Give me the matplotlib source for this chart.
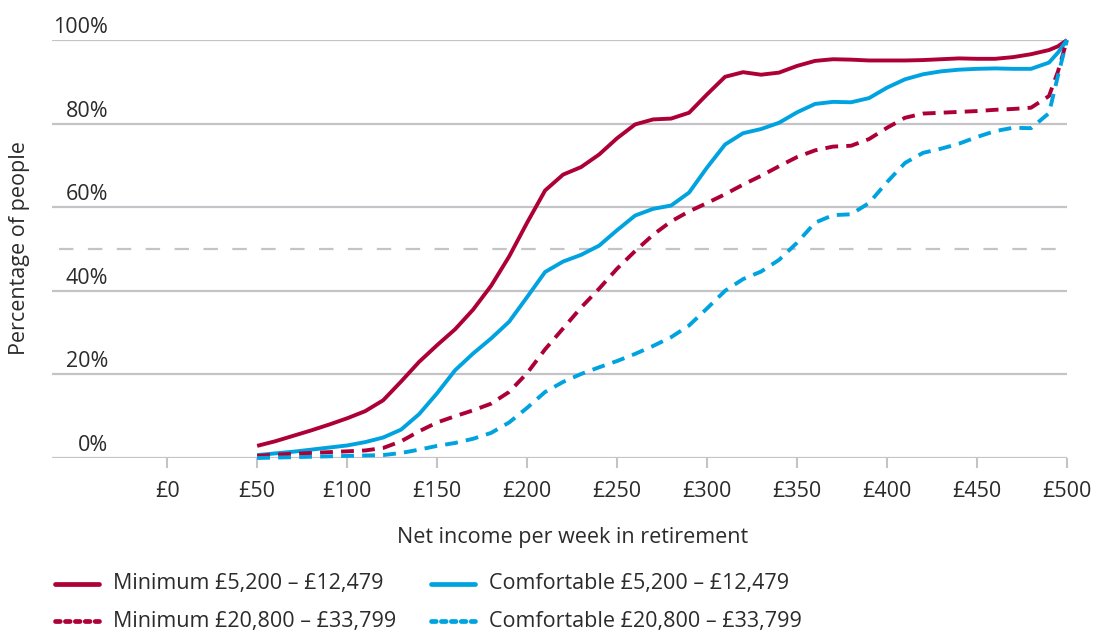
import matplotlib
matplotlib.use("Agg")
import matplotlib.pyplot as plt
from matplotlib.lines import Line2D
from matplotlib import transforms

# Weekly net income in retirement (£)
income = [50, 60, 70, 80, 90, 100, 110, 120, 130, 140, 150, 160, 170, 180, 190,
          200, 210, 220, 230, 240, 250, 260, 270, 280, 290, 300, 310, 320, 330,
          340, 350, 360, 370, 380, 390, 400, 410, 420, 430, 440, 450, 460, 470,
          480, 490, 495, 500]

# Cumulative percentage of people, by standard and earnings band
minimum_low = [2.9, 4.0, 5.3, 6.6, 8.0, 9.5, 11.2, 13.8, 18.3, 23.0, 27.0, 30.8,
               35.5, 41.2, 48.2, 56.3, 64.0, 67.8, 69.6, 72.6, 76.5, 79.8, 81.0,
               81.2, 82.6, 87.0, 91.2, 92.3, 91.7, 92.2, 93.8, 95.0, 95.4, 95.3,
               95.1, 95.1, 95.1, 95.2, 95.4, 95.6, 95.5, 95.5, 95.9, 96.6, 97.6,
               98.5, 100.0]
comfortable_low = [0.7, 1.1, 1.5, 2.0, 2.5, 3.0, 3.8, 4.9, 6.8, 10.5, 15.5, 21.0,
                   25.0, 28.6, 32.6, 38.5, 44.5, 47.0, 48.6, 50.8, 54.5, 58.0,
                   59.6, 60.4, 63.5, 69.5, 75.0, 77.7, 78.7, 80.2, 82.7, 84.7,
                   85.2, 85.1, 86.1, 88.6, 90.6, 91.8, 92.5, 92.9, 93.1, 93.2,
                   93.1, 93.1, 94.6, 97.0, 100.0]
minimum_high = [0.5, 0.8, 1.0, 1.2, 1.4, 1.6, 1.8, 2.4, 4.0, 6.4, 8.5, 10.0, 11.4,
                13.0, 15.8, 20.3, 26.0, 31.0, 36.0, 40.5, 45.3, 49.5, 53.4, 56.6,
                59.0, 61.0, 63.1, 65.4, 67.5, 69.8, 72.0, 73.6, 74.5, 74.7, 76.3,
                79.0, 81.4, 82.4, 82.6, 82.8, 83.0, 83.3, 83.5, 83.8, 86.6, 92.5,
                100.0]
comfortable_high = [0.0, 0.1, 0.2, 0.3, 0.4, 0.5, 0.6, 0.7, 1.2, 2.0, 2.9, 3.6,
                    4.6, 6.0, 8.5, 12.0, 15.8, 18.2, 20.1, 21.7, 23.2, 24.9, 26.8,
                    28.9, 31.7, 35.8, 40.0, 42.8, 44.6, 47.4, 51.5, 56.3, 58.1,
                    58.3, 61.0, 66.0, 70.6, 73.0, 74.0, 75.2, 76.8, 78.2, 79.0,
                    78.9, 82.5, 91.5, 100.0]

series_labels = ["Minimum £5,200 – £12,479", "Comfortable £5,200 – £12,479",
                 "Minimum £20,800 – £33,799", "Comfortable £20,800 – £33,799"]
x_ticks = [0, 50, 100, 150, 200, 250, 300, 350, 400, 450, 500]
x_tick_labels = ["£0", "£50", "£100", "£150", "£200", "£250", "£300", "£350",
                 "£400", "£450", "£500"]
y_ticks = [0, 20, 40, 60, 80, 100]
y_tick_labels = ["0%", "20%", "40%", "60%", "80%", "100%"]

RED = "#AD0036"
BLUE = "#00A3E0"
GRID = "#C4C4C8"
TEXT = "#2B2B2B"
FONT = "Open Sans"
FS = 15.5

plt.rcParams["font.family"] = [FONT, "DejaVu Sans"]

W, H = 1095, 632
fig = plt.figure(figsize=(W / 100, H / 100), dpi=100)
fig.patch.set_facecolor("white")
ax = fig.add_axes([52 / W, 1 - 458 / H, (1067 - 52) / W, (458 - 40) / H])
ax.set_xlim(-64, 500)
ax.set_ylim(0, 100)
for s in ax.spines.values():
    s.set_visible(False)

# horizontal gridlines and the 50% reference line
for yv in y_ticks:
    ax.axhline(yv, color=GRID, lw=1.6, zorder=0, solid_capstyle="butt")
ax.hlines(50, -60, 500, color=GRID, lw=1.6, linestyles=(0, (6.5, 6.5)), zorder=0)

# y labels sit just above their gridlines
ylab_tr = transforms.offset_copy(
    transforms.blended_transform_factory(ax.transAxes, ax.transData),
    fig=fig, x=0, y=7, units="dots")
ax.set_yticks([])
for yv, lab in zip(y_ticks, y_tick_labels):
    ax.text(0.0552, yv, lab, transform=ylab_tr, ha="right", va="baseline",
            fontsize=FS, color=TEXT)

ax.set_xticks(x_ticks)
ax.set_xticklabels(x_tick_labels, fontsize=FS, color=TEXT)
ax.tick_params(axis="x", length=7.5, width=1.5, color=GRID, pad=9)

# data lines
lw = 2.8
dash = (0, (3.3, 2.1))
common = dict(lw=lw, clip_on=False, solid_joinstyle="round", dash_joinstyle="round",
              solid_capstyle="butt", dash_capstyle="butt")
ax.plot(income, minimum_low, color=RED, zorder=3, **common)
ax.plot(income, comfortable_low, color=BLUE, zorder=3, **common)
ax.plot(income, minimum_high, color=RED, linestyle=dash, zorder=3, **common)
ax.plot(income, comfortable_high, color=BLUE, linestyle=dash, zorder=4, **common)

fig.text(20 / W, 1 - 248 / H, "Percentage of people", rotation=90, ha="center",
         va="center", fontsize=FS, color=TEXT)
fig.text(573 / W, 1 - 537 / H, "Net income per week in retirement", ha="center",
         va="center", fontsize=FS, color=TEXT)

# legend: two columns, solid bands above dashed bands
legend_items = [
    (series_labels[0], RED, "-", 55, 584),
    (series_labels[1], BLUE, "-", 431, 584),
    (series_labels[2], RED, (0, (1.0, 1.1)), 55, 621),
    (series_labels[3], BLUE, (0, (1.0, 1.1)), 431, 621),
]
for label, col, ls, x0, yc in legend_items:
    yf = 1 - yc / H
    fig.add_artist(Line2D([x0 / W, (x0 + 44) / W], [yf, yf], transform=fig.transFigure,
                          color=col, lw=3.4, linestyle=ls, solid_capstyle="round",
                          dash_capstyle="round"))
    fig.text((x0 + 58) / W, yf, label, ha="left", va="center", fontsize=FS, color=TEXT)

fig.savefig("out.png", dpi=100, facecolor="white")
